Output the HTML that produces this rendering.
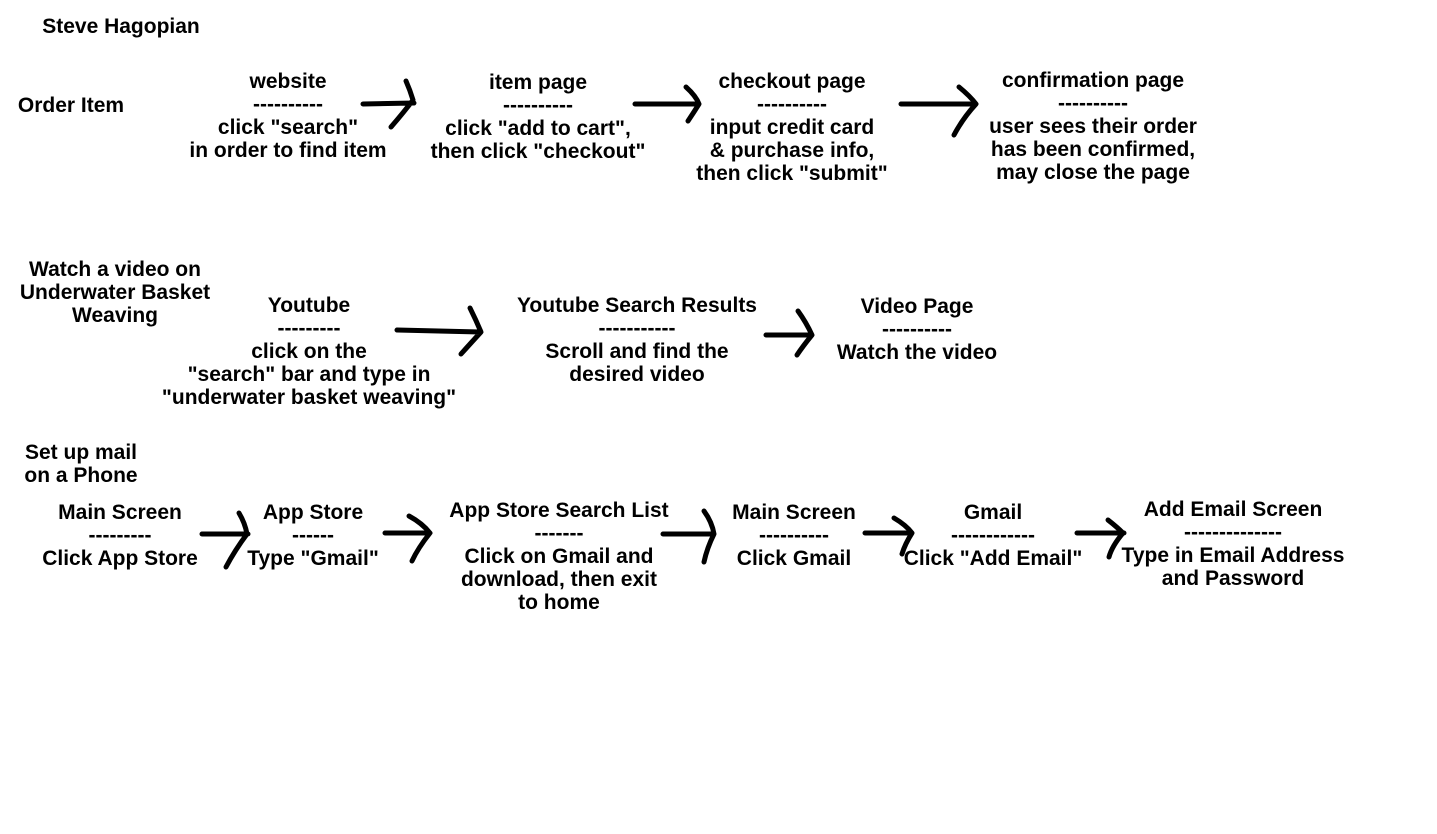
<!DOCTYPE html>
<html><head><meta charset="utf-8"><style>
html,body{margin:0;padding:0;background:#fff;width:1437px;height:834px;overflow:hidden;position:relative}
.t{position:absolute;width:600px;text-align:center;font-family:"Liberation Sans",Arial,sans-serif;font-weight:bold;font-size:21px;line-height:23px;color:#000;white-space:nowrap}
svg{position:absolute;left:0;top:0}
path{fill:none;stroke:#000;stroke-width:5;stroke-linecap:round;stroke-linejoin:round}
</style></head><body>
<div class="t" style="left:-179px;top:15px">Steve Hagopian</div>
<div class="t" style="left:-229px;top:94px">Order Item</div>
<div class="t" style="left:-12px;top:70px">website<br>----------<br>click "search"<br>in order to find item</div>
<div class="t" style="left:238px;top:71px">item page<br>----------<br>click "add to cart",<br>then click "checkout"</div>
<div class="t" style="left:492px;top:70px">checkout page<br>----------<br>input credit card<br>&amp; purchase info,<br>then click "submit"</div>
<div class="t" style="left:793px;top:69px">confirmation page<br>----------<br>user sees their order<br>has been confirmed,<br>may close the page</div>
<div class="t" style="left:-185px;top:258px">Watch a video on<br>Underwater Basket<br>Weaving</div>
<div class="t" style="left:9px;top:294px">Youtube<br>---------<br>click on the<br>"search" bar and type in<br>"underwater basket weaving"</div>
<div class="t" style="left:337px;top:294px">Youtube Search Results<br>-----------<br>Scroll and find the<br>desired video</div>
<div class="t" style="left:617px;top:295px">Video Page<br>----------<br>Watch the video</div>
<div class="t" style="left:-219px;top:441px">Set up mail<br>on a Phone</div>
<div class="t" style="left:-180px;top:501px">Main Screen<br>---------<br>Click App Store</div>
<div class="t" style="left:13px;top:501px">App Store<br>------<br>Type "Gmail"</div>
<div class="t" style="left:259px;top:499px">App Store Search List<br>-------<br>Click on Gmail and<br>download, then exit<br>to home</div>
<div class="t" style="left:494px;top:501px">Main Screen<br>----------<br>Click Gmail</div>
<div class="t" style="left:693px;top:501px">Gmail<br>------------<br>Click "Add Email"</div>
<div class="t" style="left:933px;top:498px">Add Email Screen<br>--------------<br>Type in Email Address<br>and Password</div>
<svg width="1437" height="834">
<path d="M363 104 L414 103 M406 81 Q410 90 413 100 Q404 112 391 127"/>
<path d="M635 104 L699 104 M686 87 Q696 96 699 104 Q694 112 688 121"/>
<path d="M901 104 L976 104 M959 87 Q970 96 976 104 Q963 118 954 135"/>
<path d="M397 330 L480 332 M470 308 Q476 320 481 332 Q470 344 461 354"/>
<path d="M766 335 L812 335 M798 311 Q806 322 812 335 Q803 346 797 355"/>
<path d="M202 534 L248 534 M239 513 Q245 523 247 534 Q235 550 226 567"/>
<path d="M385 533 L430 533 M409 516 Q422 523 430 533 Q418 548 412 561"/>
<path d="M663 534 L714 534 M704 511 Q712 522 714 534 Q707 548 704 562"/>
<path d="M865 533 L912 533 M894 518 Q906 525 912 533 Q905 544 902 554"/>
<path d="M1077 533 L1124 533 M1108 520 Q1117 527 1123 533 Q1112 546 1109 557"/>
</svg>
</body></html>
